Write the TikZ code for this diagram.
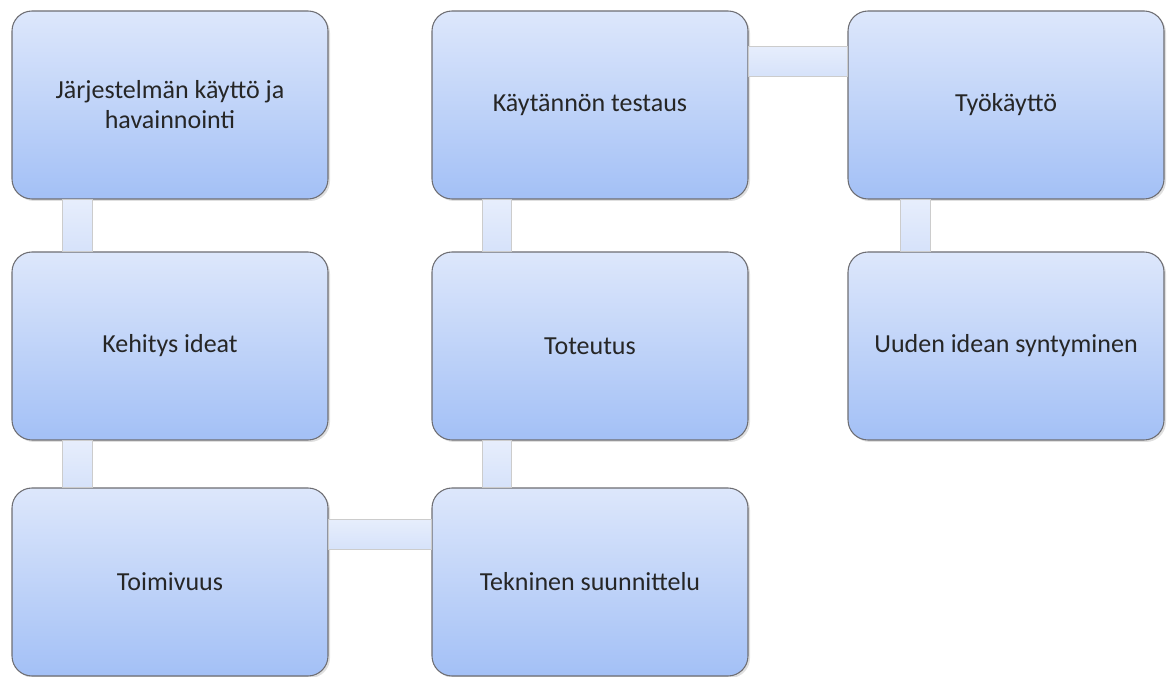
\documentclass[tikz,border=0pt]{standalone}
\usepackage{fontspec}
\setmainfont{Carlito}
\usetikzlibrary{positioning,calc,shadows}
\definecolor{clrTop}{RGB}{221,231,251}
\definecolor{clrBot}{RGB}{163,192,246}
\definecolor{clrEdge}{RGB}{110,110,115}
\definecolor{clrLink}{RGB}{214,226,250}
\definecolor{clrTxt}{RGB}{38,38,38}
\tikzset{
  stepbox/.style={rectangle,rounded corners=15pt,draw=clrEdge,line width=0.8pt,
    top color=clrTop,bottom color=clrBot,minimum width=237pt,minimum height=141pt,
    align=center,text=clrTxt,font=\fontsize{19.5}{22.5}\selectfont,
    drop shadow={shadow xshift=1.5pt,shadow yshift=-1.5pt,opacity=0.25}},
  link/.style={top color=clrLink!60!white,bottom color=clrLink,draw=gray!40,line width=0.6pt}
}

\begin{document}
\begin{tikzpicture}[x=0.75pt,y=0.75pt]
  \useasboundingbox (0,0) rectangle (1173,677);
  % first column
  \node[stepbox] (jarj) at (170,572) {Järjestelmän käyttö ja\\havainnointi};
  \node[stepbox] (kehi) at (170,331) {Kehitys ideat};
  \node[stepbox] (toim) at (170,95) {Toimivuus};
  % second column
  \node[stepbox] (tekn) at (590,95) {Tekninen suunnittelu};
  \node[stepbox] (tote) at (590,331) {Toteutus};
  \node[stepbox] (kayt) at (590,572) {Käytännön testaus};
  % third column
  \node[stepbox] (tyok) at (1006,572) {Työkäyttö};
  \node[stepbox] (uude) at (1006,331) {Uuden idean syntyminen};
  % connecting bars
  \draw[link] ($(jarj.south west)+(51,0)$) rectangle ($(kehi.north west)+(81,0)$);
  \draw[link] ($(kehi.south west)+(51,0)$) rectangle ($(toim.north west)+(81,0)$);
  \draw[link] ($(toim.north east)+(0,-32)$) rectangle ($(tekn.north west)+(0,-62)$);
  \draw[link] ($(tekn.north west)+(51,0)$) rectangle ($(tote.south west)+(80,0)$);
  \draw[link] ($(tote.north west)+(51,0)$) rectangle ($(kayt.south west)+(80,0)$);
  \draw[link] ($(kayt.north east)+(0,-36)$) rectangle ($(tyok.north west)+(0,-66)$);
  \draw[link] ($(tyok.south west)+(53,0)$) rectangle ($(uude.north west)+(83,0)$);
\end{tikzpicture}
\end{document}
